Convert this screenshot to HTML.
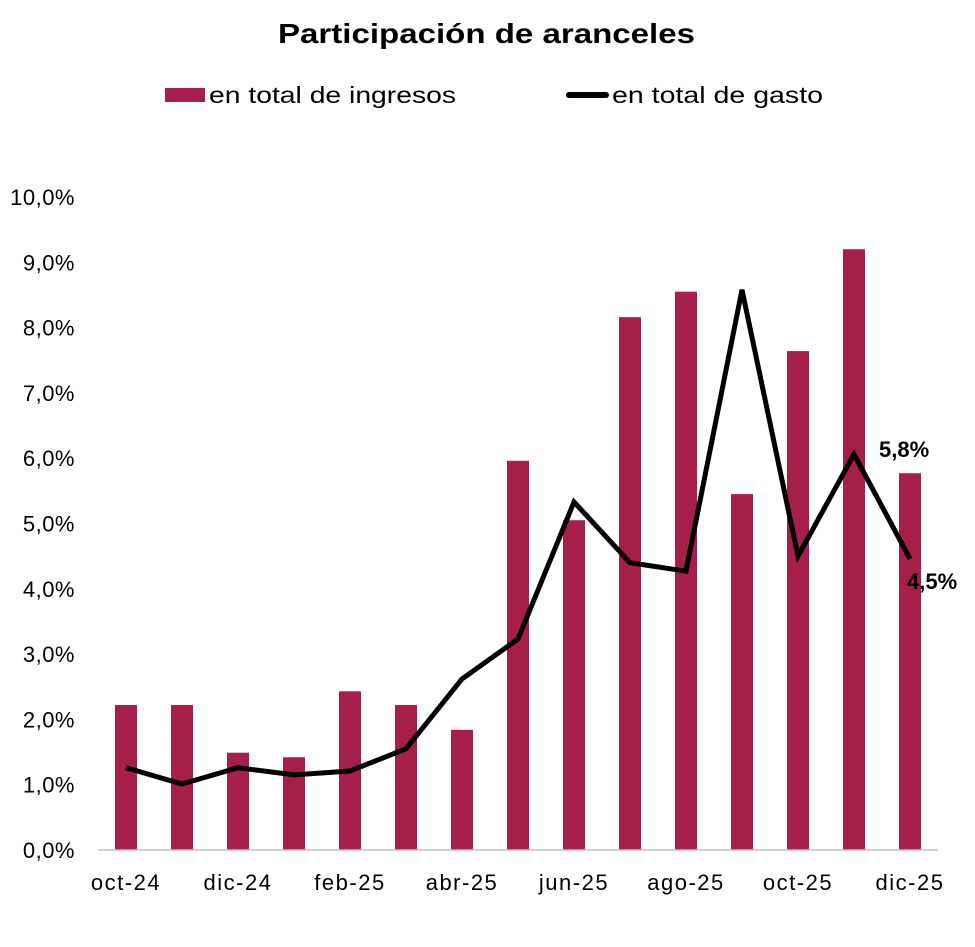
<!DOCTYPE html>
<html><head><meta charset="utf-8"><style>
body{margin:0;background:#fff;width:975px;height:942px;overflow:hidden}
svg text{font-family:"Liberation Sans",sans-serif}
</style></head><body>
<svg id="chart" width="975" height="942">
<text x="278" y="43" textLength="417" lengthAdjust="spacingAndGlyphs" font-size="28" font-weight="bold">Participación de aranceles</text>
<g>
<rect x="165" y="88" width="40" height="14" fill="#a61f48"/>
<text x="209" y="103" font-size="23" textLength="247" lengthAdjust="spacingAndGlyphs">en total de ingresos</text>
<line x1="569" y1="95" x2="606" y2="95" stroke="#000" stroke-width="6" stroke-linecap="round"/>
<text x="612" y="103" font-size="23" textLength="211" lengthAdjust="spacingAndGlyphs">en total de gasto</text>
</g>
<g id="yaxis"></g>
<g id="bars"></g>
<g id="xaxis"></g>
<g id="line"></g>
</svg>
<script>
const categories=["oct-24","nov-24","dic-24","ene-25","feb-25","mar-25","abr-25","may-25","jun-25","jul-25","ago-25","sep-25","oct-25","nov-25","dic-25"];
const ingresos=[2.22,2.22,1.49,1.42,2.43,2.22,1.84,5.96,5.05,8.16,8.55,5.45,7.64,9.20,5.77];
const gasto=[1.26,1.01,1.26,1.15,1.21,1.55,2.62,3.23,5.33,4.40,4.27,8.58,4.50,6.06,4.46];
const yTicks=[0,1,2,3,4,5,6,7,8,9,10];
const NS="http://www.w3.org/2000/svg";
const x0=98,band=56,y0=850,yTop=197,yMax=10;
const xs=i=>x0+band*(i+0.5);
const ys=v=>y0-(v/yMax)*(y0-yTop);
const fmt=v=>v.toFixed(1).replace('.',',')+'%';
function mk(t,a,p){const e=document.createElementNS(NS,t);for(const k in a)e.setAttribute(k,a[k]);p.appendChild(e);return e;}
const ya=document.getElementById('yaxis');
yTicks.forEach(v=>{const t=mk('text',{x:75,y:ys(v)+8,'text-anchor':'end','font-size':'22','letter-spacing':'0.5'},ya);t.textContent=fmt(v);

});
const bg=document.getElementById('bars');
ingresos.forEach((v,i)=>{const r=mk('rect',{x:xs(i)-11,y:ys(v),width:22,height:y0-ys(v),fill:'#a61f48'},bg);

});
const xa=document.getElementById('xaxis');
const ax=mk('line',{x1:x0,x2:x0+band*categories.length,y1:y0,y2:y0,stroke:'#bfbfbf','stroke-width':1.5},xa);


categories.forEach((c,i)=>{if(i%2)return;const t=mk('text',{x:xs(i),y:890,'text-anchor':'middle','font-size':'22','letter-spacing':'1.5'},xa);t.textContent=c;

});
const lg=document.getElementById('line');
const p=mk('polyline',{points:gasto.map((v,i)=>xs(i)+','+ys(v)).join(' '),fill:'none',stroke:'#000','stroke-width':5,'stroke-linejoin':'miter'},lg);


const n=categories.length-1;
const l1=mk('text',{x:xs(n)-31,y:ys(ingresos[n])-16,'font-size':'22','font-weight':'bold'},lg);l1.textContent=fmt(ingresos[n]);


const l2=mk('text',{x:xs(n)-3,y:ys(gasto[n])+30,'font-size':'22','font-weight':'bold'},lg);l2.textContent=fmt(gasto[n]);


</script>
</body></html>
